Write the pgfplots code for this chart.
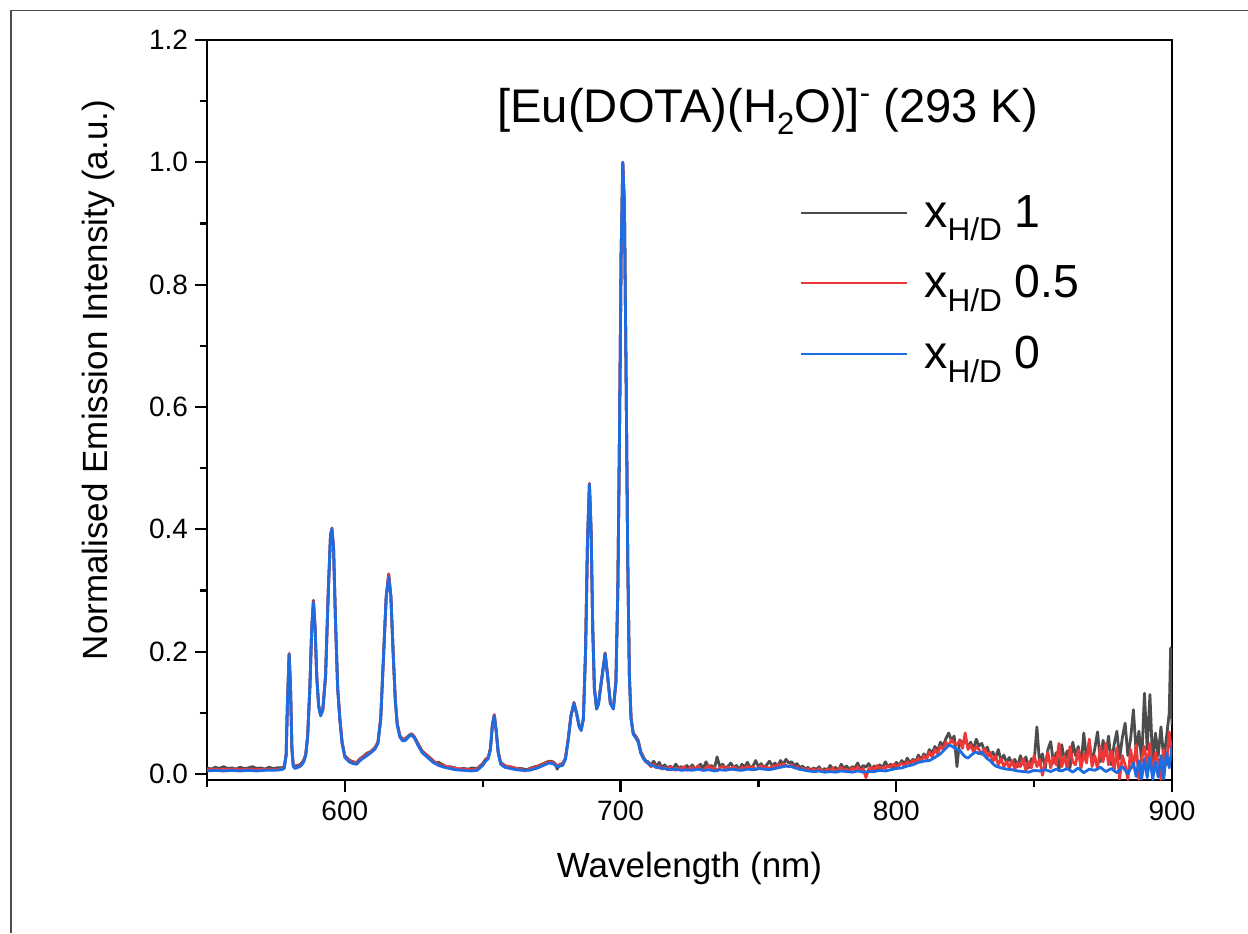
\documentclass[border=0pt]{standalone}
\usepackage{fontspec}
\setmainfont{Liberation Sans}
\usepackage{pgfplots}
\pgfplotsset{compat=1.18}
\definecolor{cgray}{RGB}{77,77,77}
\definecolor{cred}{RGB}{238,56,56}
\definecolor{cblue}{RGB}{30,108,226}

\pgfplotstableread{
x y
550 0.005
553 0.006
556 0.005
559 0.006
562 0.005
565 0.006
568 0.005
571 0.006
574 0.006
577 0.007
578 0.009
578.7 0.03
579.2 0.12
579.8 0.195
580.3 0.14
580.8 0.04
581.3 0.012
582 0.009
583 0.011
584 0.013
585 0.019
585.8 0.03
586.5 0.06
587.3 0.14
588 0.24
588.6 0.280
589.2 0.24
589.8 0.16
590.5 0.11
591.2 0.095
592 0.104
593 0.16
594 0.30
594.8 0.39
595.3 0.400
595.9 0.37
596.6 0.25
597.4 0.14
598.2 0.088
599 0.05
600 0.027
601.5 0.020
603 0.017
604.3 0.016
605.5 0.022
607 0.027
608 0.030
609.5 0.035
611 0.041
612 0.05
613 0.09
614 0.19
615 0.29
615.9 0.322
616.7 0.29
617.5 0.2
618.3 0.12
619 0.08
620 0.06
621 0.054
622 0.055
623.2 0.061
624.2 0.064
625.2 0.059
626.5 0.047
628 0.035
630 0.027
632 0.019
634 0.014
636 0.011
638 0.009
640 0.007
643 0.006
646 0.005
648 0.006
650 0.014
651 0.021
652 0.025
652.8 0.04
653.5 0.08
654.2 0.095
654.9 0.07
655.6 0.035
656.5 0.016
658 0.011
661 0.008
664 0.006
667 0.006
670 0.010
672 0.014
674 0.018
675.5 0.017
677 0.012
679 0.014
680 0.024
681 0.055
682 0.095
683.1 0.115
684 0.1
685 0.077
685.7 0.071
686.5 0.09
687.3 0.2
688 0.38
688.7 0.473
689.3 0.4
689.9 0.24
690.5 0.14
691.3 0.106
692 0.114
693 0.15
694.4 0.196
695.3 0.16
696.3 0.115
697.4 0.106
698.3 0.15
699 0.3
699.6 0.55
700.2 0.85
700.8 1.0
701.4 0.93
702 0.65
702.6 0.35
703.2 0.16
703.8 0.09
704.6 0.065
705.5 0.059
706.4 0.052
707.3 0.034
708.3 0.025
710 0.017
712 0.013
714 0.010
716 0.009
718 0.007
720 0.008
722 0.006
724 0.007
726 0.006
728 0.008
730 0.006
732 0.007
734 0.005
736 0.007
738 0.006
740 0.008
742 0.007
744 0.006
746 0.008
748 0.007
750 0.009
752 0.008
754 0.007
756 0.009
758 0.011
760 0.013
762 0.012
764 0.009
766 0.007
768 0.005
770 0.004
772 0.005
774 0.003
776 0.004
778 0.003
780 0.005
782 0.004
784 0.003
786 0.005
788 0.003
790 0.004
792 0.004
794 0.006
796 0.005
798 0.007
800 0.009
802 0.010
804 0.013
806 0.015
808 0.019
810 0.021
812 0.022
814 0.027
816 0.033
818 0.042
819 0.047
820 0.046
821 0.043
822 0.040
823 0.039
824 0.033
825 0.028
826 0.026
827 0.030
828 0.034
829 0.036
830 0.033
831 0.036
832 0.030
833 0.025
834 0.022
835 0.017
836 0.013
838 0.010
840 0.008
842 0.007
844 0.005
846 0.004
848 0.003
850 0.006
852 0.005
854 0.007
856 0.004
858 0.008
860 0.005
862 0.009
864 0.003
866 0.010
868 0.002
870 0.008
872 0.006
874 0.011
876 0.004
878 0.009
880 0.002
882 0.012
884 0.000
886 0.018
887 -0.004
888 0.022
889 -0.008
890 0.025
891 -0.006
892 0.028
893 -0.009
894 0.020
895 -0.005
896 0.030
897 -0.008
898 0.035
899 0.010
900 0.045
}\blueT

\pgfplotstableread{
x y
550 0.010
551.5 0.008
553 0.011
554.5 0.009
556 0.012
557.5 0.009
559 0.010
560.5 0.008
562 0.011
563.5 0.009
565 0.010
566.5 0.012
568 0.009
569.5 0.010
571 0.008
572.5 0.011
574 0.009
575.5 0.010
577 0.010
578 0.012
578.7 0.032
579.2 0.12
579.8 0.197
580.3 0.14
580.8 0.042
581.3 0.015
582 0.013
583 0.014
584 0.016
585 0.022
585.8 0.032
586.5 0.062
587.3 0.14
588 0.24
588.6 0.284
589.2 0.24
589.8 0.16
590.5 0.112
591.2 0.098
592 0.106
593 0.16
594 0.30
594.8 0.39
595.3 0.402
595.9 0.37
596.6 0.25
597.4 0.14
598.2 0.09
599 0.052
600 0.030
601.5 0.023
603 0.020
604.3 0.019
605.5 0.025
607 0.030
608 0.034
609.5 0.037
611 0.044
612 0.052
613 0.09
614 0.19
615 0.29
615.9 0.327
616.7 0.29
617.5 0.2
618.3 0.12
619 0.082
620 0.062
621 0.057
622 0.058
623.2 0.063
624.2 0.066
625.2 0.061
626.5 0.05
628 0.038
630 0.030
632 0.022
633 0.018
634 0.019
636 0.014
637 0.011
638 0.012
640 0.010
641 0.008
643 0.009
645 0.008
646 0.010
648 0.009
650 0.017
651 0.024
652 0.027
652.8 0.042
653.5 0.08
654.2 0.097
654.9 0.07
655.6 0.037
656.5 0.019
658 0.014
659 0.012
661 0.011
662 0.009
664 0.009
666 0.007
667 0.009
669 0.012
670 0.013
672 0.017
674 0.021
675.5 0.020
676.5 0.016
677 0.008
678 0.016
679 0.017
680 0.026
681 0.057
682 0.095
683.1 0.117
684 0.1
685 0.078
685.7 0.073
686.5 0.09
687.3 0.2
688 0.38
688.7 0.475
689.3 0.4
689.9 0.24
690.5 0.14
691.3 0.108
692 0.116
693 0.15
694.4 0.198
695.3 0.16
696.3 0.116
697.4 0.108
698.3 0.15
699 0.3
699.6 0.55
700.2 0.85
700.8 1.0
701.4 0.93
702 0.65
702.6 0.35
703.2 0.16
703.8 0.092
704.6 0.067
705.5 0.062
706.4 0.055
707.3 0.037
708.3 0.028
709 0.022
710 0.020
711 0.014
712 0.021
713 0.012
714 0.019
715 0.010
716 0.015
717 0.009
718 0.013
719 0.008
720 0.016
721 0.010
722 0.012
723 0.007
724 0.014
725 0.009
726 0.015
727 0.008
728 0.012
729 0.016
730 0.009
731 0.020
732 0.011
733 0.014
734 0.008
735 0.028
736 0.012
737 0.016
738 0.009
739 0.013
740 0.018
741 0.010
742 0.014
743 0.007
744 0.016
745 0.011
746 0.019
747 0.010
748 0.013
749 0.022
750 0.012
751 0.017
752 0.010
753 0.015
754 0.021
755 0.013
756 0.018
757 0.012
758 0.022
759 0.016
760 0.024
761 0.018
762 0.020
763 0.014
764 0.017
765 0.010
766 0.013
767 0.008
768 0.011
769 0.006
770 0.010
771 0.007
772 0.012
773 0.005
774 0.009
775 0.006
776 0.014
777 0.008
778 0.011
779 0.005
780 0.016
781 0.009
782 0.013
783 0.007
784 0.012
785 0.010
786 0.018
787 0.008
788 0.014
789 0.011
790 0.017
791 0.009
792 0.013
793 0.006
794 0.015
795 0.010
796 0.020
797 0.012
798 0.016
799 0.011
800 0.019
801 0.014
802 0.022
803 0.016
804 0.026
805 0.018
806 0.024
807 0.020
808 0.031
809 0.023
810 0.033
811 0.027
812 0.040
813 0.034
814 0.045
815 0.038
816 0.052
817 0.046
818 0.058
819 0.067
820 0.055
821 0.062
822 0.012
823 0.056
824 0.050
825 0.058
826 0.044
827 0.052
828 0.040
829 0.057
830 0.046
831 0.050
832 0.038
833 0.044
834 0.030
835 0.036
836 0.026
837 0.040
838 0.022
839 0.031
840 0.019
841 0.027
842 0.015
843 0.024
844 0.012
845 0.030
846 0.016
847 0.028
848 0.010
849 0.025
850 0.020
851 0.077
852 0.015
853 0.033
854 0.008
855 0.040
856 0.053
857 0.018
858 0.035
859 0.005
860 0.048
861 0.022
862 0.038
863 0.010
864 0.052
865 0.030
866 0.045
867 0.012
868 0.067
869 0.025
870 0.050
871 0.018
872 0.042
873 0.069
874 0.020
875 0.055
876 0.030
877 0.062
878 0.015
879 0.048
880 0.070
881 0.025
882 0.060
883 0.083
884 0.030
885 0.058
886 0.105
887 0.035
888 0.070
889 0.020
890 0.132
891 0.040
892 0.130
893 0.015
894 0.067
895 0.030
896 0.077
897 0.024
898 0.060
899 0.100
899.5 0.206
900 0.080
}\grayT

\pgfplotstableread{
x y
550 0.007
553 0.008
556 0.007
559 0.008
562 0.007
565 0.008
568 0.007
571 0.008
574 0.007
577 0.008
578 0.010
578.7 0.031
579.2 0.12
579.8 0.196
580.3 0.14
580.8 0.041
581.3 0.013
582 0.011
583 0.012
584 0.014
585 0.020
585.8 0.031
586.5 0.061
587.3 0.14
588 0.24
588.6 0.282
589.2 0.24
589.8 0.16
590.5 0.111
591.2 0.097
592 0.105
593 0.16
594 0.30
594.8 0.39
595.3 0.401
595.9 0.37
596.6 0.25
597.4 0.14
598.2 0.089
599 0.051
600 0.029
601.5 0.022
603 0.019
604.3 0.018
605.5 0.024
607 0.029
608 0.032
609.5 0.037
611 0.043
612 0.051
613 0.09
614 0.19
615 0.29
615.9 0.327
616.7 0.29
617.5 0.2
618.3 0.12
619 0.081
620 0.061
621 0.056
622 0.057
623.2 0.062
624.2 0.065
625.2 0.060
626.5 0.049
628 0.037
630 0.029
632 0.021
634 0.016
636 0.013
638 0.011
640 0.009
643 0.008
646 0.007
648 0.008
650 0.016
651 0.023
652 0.027
652.8 0.041
653.5 0.08
654.2 0.097
654.9 0.07
655.6 0.036
656.5 0.018
658 0.013
660 0.012
661 0.010
664 0.008
665 0.005
667 0.008
670 0.012
672 0.016
674 0.020
675.5 0.019
677 0.014
679 0.016
680 0.026
681 0.056
682 0.095
683.1 0.116
684 0.1
685 0.078
685.7 0.072
686.5 0.09
687.3 0.2
688 0.38
688.7 0.474
689.3 0.4
689.9 0.24
690.5 0.14
691.3 0.107
692 0.115
693 0.15
694.4 0.197
695.3 0.16
696.3 0.116
697.4 0.108
698.3 0.15
699 0.3
699.6 0.55
700.2 0.85
700.8 1.0
701.4 0.93
702 0.65
702.6 0.35
703.2 0.16
703.8 0.091
704.6 0.066
705.5 0.061
706.4 0.054
707.3 0.036
708.3 0.027
709 0.020
710 0.018
711 0.012
712 0.016
713 0.010
714 0.013
715 0.008
716 0.011
717 0.007
718 0.012
719 0.009
720 0.006
721 0.010
722 0.008
723 0.012
724 0.006
725 0.009
726 0.011
727 0.007
728 0.013
729 0.008
730 0.006
731 0.010
732 0.014
733 0.008
734 0.011
735 0.005
736 0.010
737 0.013
738 0.008
739 0.011
740 0.007
741 0.012
742 0.009
743 0.006
744 0.011
745 0.008
746 0.013
747 0.009
748 0.012
749 0.007
750 0.010
751 0.014
752 0.009
753 0.012
754 0.008
755 0.013
756 0.011
757 0.016
758 0.012
759 0.017
760 0.014
761 0.012
762 0.015
763 0.010
764 0.012
765 0.007
766 0.010
767 0.006
768 0.009
769 0.005
770 0.008
771 0.004
772 0.009
773 0.006
774 0.003
775 0.008
776 0.005
777 0.010
778 0.004
779 0.007
780 0.011
781 0.005
782 0.008
783 0.004
784 0.010
785 0.006
786 0.012
787 0.005
788 0.009
789 -0.006
790 0.008
791 0.011
792 0.006
793 0.014
794 0.008
795 0.012
796 0.009
797 0.014
798 0.011
799 0.016
800 0.012
801 0.015
802 0.018
803 0.013
804 0.020
805 0.016
806 0.022
807 0.018
808 0.026
809 0.020
810 0.030
811 0.024
812 0.036
813 0.028
814 0.040
815 0.033
816 0.046
817 0.040
818 0.052
819 0.046
820 0.056
821 0.050
822 0.048
823 0.055
824 0.042
825 0.067
826 0.040
827 0.048
828 0.036
829 0.045
830 0.040
831 0.032
832 0.042
833 0.028
834 0.035
835 0.020
836 0.030
837 0.015
838 0.025
839 0.012
840 0.020
841 0.010
842 0.022
843 0.008
844 0.018
845 0.012
846 0.025
847 0.005
848 0.020
849 0.010
850 0.030
851 0.012
852 0.024
853 -0.002
854 0.018
855 0.035
856 0.010
857 0.028
858 0.015
859 0.050
860 0.012
861 0.030
862 0.008
863 0.045
864 0.020
865 0.015
866 0.040
867 0.010
868 0.033
869 0.018
870 0.057
871 0.012
872 0.030
873 0.008
874 0.045
875 0.020
876 0.050
877 0.015
878 0.038
879 0.005
880 0.043
881 -0.008
882 0.030
883 0.015
884 -0.009
885 0.040
886 0.010
887 0.048
888 -0.009
889 0.025
890 0.045
891 0.012
892 0.050
893 -0.005
894 0.035
895 0.020
896 -0.009
897 0.040
898 0.015
899 0.069
900 0.030
}\redT

\newcommand{\sub}[1]{\raisebox{-6.8pt}{\fontsize{15.8}{15.8}\selectfont #1}}

\begin{document}
\begin{tikzpicture}
\path[use as bounding box] (0pt,0pt) rectangle (624pt,466.5pt);
\draw[line width=0.8pt, black!70] (5.5pt,0pt) -- (5.5pt,461.25pt) -- (624pt,461.25pt);
\begin{axis}[
  at={(103.5pt,76.5pt)}, anchor=south west,
  scale only axis, width=482.5pt, height=370pt,
  xmin=550, xmax=900, ymin=-0.0098, ymax=1.2,
  xtick={600,700,800,900},
  minor xtick={550,650,750,850},
  ytick={0,0.2,0.4,0.6,0.8,1.0,1.2},
  minor ytick={0.1,0.3,0.5,0.7,0.9,1.1},
  xtick pos=bottom, ytick pos=left,
  tick align=outside,
  major tick length=6pt, minor tick length=3.5pt,
  axis line style={line width=1.1pt},
  every tick/.style={line width=1.1pt, black},
  /pgf/number format/assume math mode=true,
  ticklabel style={font=\fontsize{14}{16}\selectfont},
  xticklabel style={yshift=-1pt},
  yticklabel style={/pgf/number format/.cd, fixed, fixed zerofill, precision=1},
  xlabel={Wavelength (nm)},
  ylabel={Normalised Emission Intensity (a.u.)},
  label style={font=\fontsize{17.5}{21}\selectfont},
  xlabel style={at={(axis description cs:0.5,-0.132)}, anchor=base},
  ylabel style={at={(axis description cs:-0.1026,0.5405)}, anchor=base},
  legend style={draw=none, fill=none, at={(0.6145,0.796)}, anchor=north west,
    font=\fontsize{23.2}{27}\selectfont, row sep=13.6pt, inner sep=0pt,
    /tikz/every odd column/.append style={column sep=6pt}},
  legend cell align=left,
  legend image code/.code={\draw[#1, line width=1pt] (0pt,0pt) -- (53pt,0pt);},
  every axis plot/.append style={line width=1.4pt, line join=round},
]
\addplot[cgray] table {\grayT};
\addplot[cred] table {\redT};
\addplot[cblue] table {\blueT};
\legend{x\sub{H/D} 1, x\sub{H/D} 0.5, x\sub{H/D} 0}
\node[anchor=base west, inner sep=0pt, font=\fontsize{23.6}{27}\selectfont] at (rel axis cs:0.3005,0.889)
  {[Eu(DOTA)(H\raisebox{-6pt}{\fontsize{15.5}{15.5}\selectfont 2}O)]\raisebox{9.5pt}{\fontsize{15.5}{15.5}\selectfont -} (293 K)};
\end{axis}
\end{tikzpicture}
\end{document}
